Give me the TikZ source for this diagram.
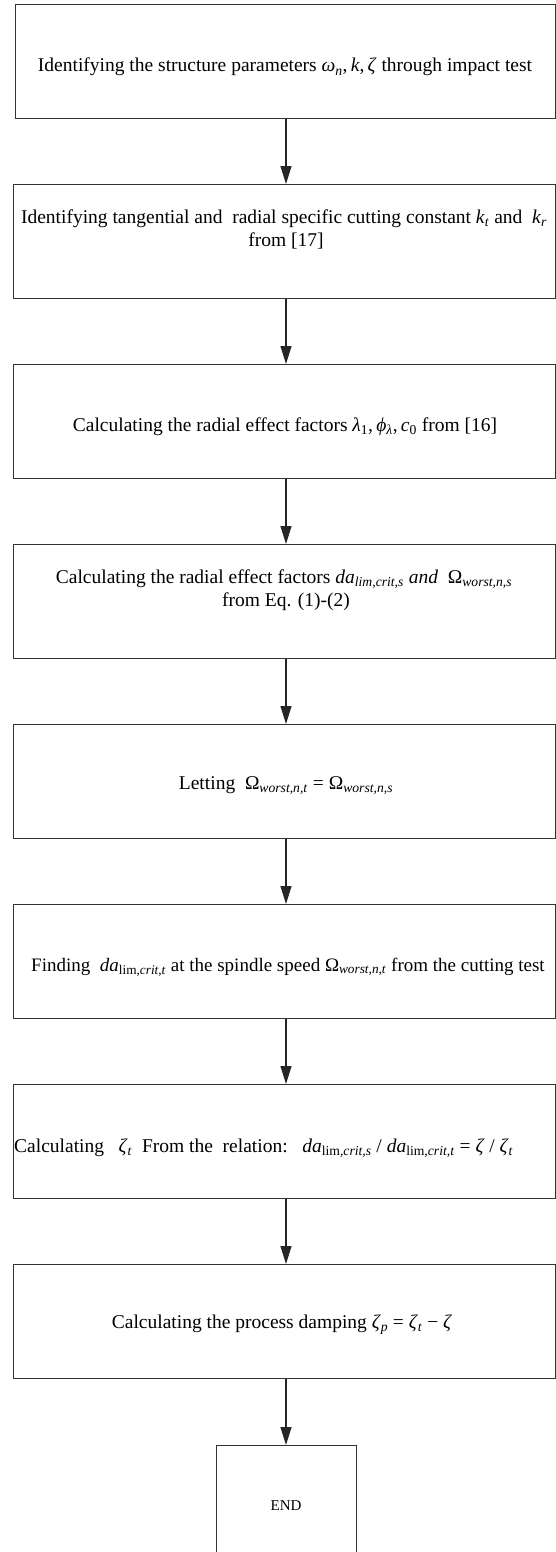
\documentclass[tikz,border=0pt]{standalone}
\usepackage{fontspec}
\setmainfont{Liberation Serif}
\usetikzlibrary{arrows.meta}
\newcommand{\iv}[1]{\textit{#1}}
\newcommand{\sbs}[1]{\textsubscript{#1}}
\begin{document}
\begin{tikzpicture}[x=1pt,y=-1pt,
  box/.style={draw=black!80, line width=1pt, rectangle, minimum height=114pt, inner sep=0pt, anchor=north west},
  txt/.style={anchor=base, inner sep=0pt, font=\fontsize{19.5}{23}\selectfont, text=black},
  flow/.style={draw=black!85, line width=1.2pt, -{Triangle[length=18pt,width=11pt]}}]
\useasboundingbox (0,0) rectangle (556,1552);

\node[box, minimum width=540pt] (b1) at (15,4) {};
\node[box, minimum width=542pt] (b2) at (13,184) {};
\node[box, minimum width=542pt] (b3) at (13,364) {};
\node[box, minimum width=542pt] (b4) at (13,544) {};
\node[box, minimum width=542pt] (b5) at (13,724) {};
\node[box, minimum width=542pt] (b6) at (13,904) {};
\node[box, minimum width=542pt] (b7) at (13,1084) {};
\node[box, minimum width=542pt] (b8) at (13,1264) {};
\node[draw=black!80, line width=1pt, rectangle, inner sep=0pt, minimum width=140pt, minimum height=130pt, anchor=north] (end) at (286,1445) {};

\node[txt] (t1) at (285,72) {Identifying the structure parameters \iv{ω}\sbs{\iv{n}},\,\iv{k},\,\iv{ζ} through impact test};
\node[txt] (t2a) at (284,223) {Identifying tangential and\ \ radial specific cutting constant \iv{k}\sbs{\iv{t}} and\ \ \iv{k}\sbs{\iv{r}}};
\node[txt] (t2b) at (286,246) {from [17]};
\node[txt] (t3) at (285,431) {Calculating the radial effect factors \iv{λ}\sbs{1},\,\iv{ϕ}\sbs{\iv{λ}},\,\iv{c}\sbs{0} from [16]};
\node[txt] (t4a) at (284,583) {Calculating the radial effect factors \iv{da}\sbs{\iv{lim,crit,s}} \iv{and}\ \ Ω\sbs{\iv{worst,n,s}}};
\node[txt] (t4b) at (286,606) {from Eq. (1)-(2)};
\node[txt] (t5) at (286,789) {Letting\ \ Ω\sbs{\iv{worst,n,t}} = Ω\sbs{\iv{worst,n,s}}};
\node[txt, font=\fontsize{19}{23}\selectfont] (t6) at (288,971) {Finding\ \ \iv{da}\sbs{lim,\iv{crit,t}} at the spindle speed Ω\sbs{\iv{worst,n,t}} from the cutting test};
\node[txt, anchor=base west] (t7) at (14,1152) {Calculating\ \ \ \iv{ζ}\sbs{\iv{t}}\ \ From the\ \ relation:\ \ \ \iv{da}\sbs{lim,\iv{crit,s}} / \iv{da}\sbs{lim,\iv{crit,t}} = \iv{ζ} / \iv{ζ}\sbs{\iv{t}}};
\node[txt] (t8) at (282,1328) {Calculating the process damping \iv{ζ}\sbs{\iv{p}} = \iv{ζ}\sbs{\iv{t}} − \iv{ζ}};
\node[txt, font=\fontsize{15}{17}\selectfont] (tend) at (286,1510) {END};

\draw[flow] (b1.south -| end.north) -- (b2.north -| end.north);
\draw[flow] (b2.south -| end.north) -- (b3.north -| end.north);
\draw[flow] (b3.south -| end.north) -- (b4.north -| end.north);
\draw[flow] (b4.south -| end.north) -- (b5.north -| end.north);
\draw[flow] (b5.south -| end.north) -- (b6.north -| end.north);
\draw[flow] (b6.south -| end.north) -- (b7.north -| end.north);
\draw[flow] (b7.south -| end.north) -- (b8.north -| end.north);
\draw[flow] (b8.south -| end.north) -- (end.north);
\end{tikzpicture}
\end{document}
